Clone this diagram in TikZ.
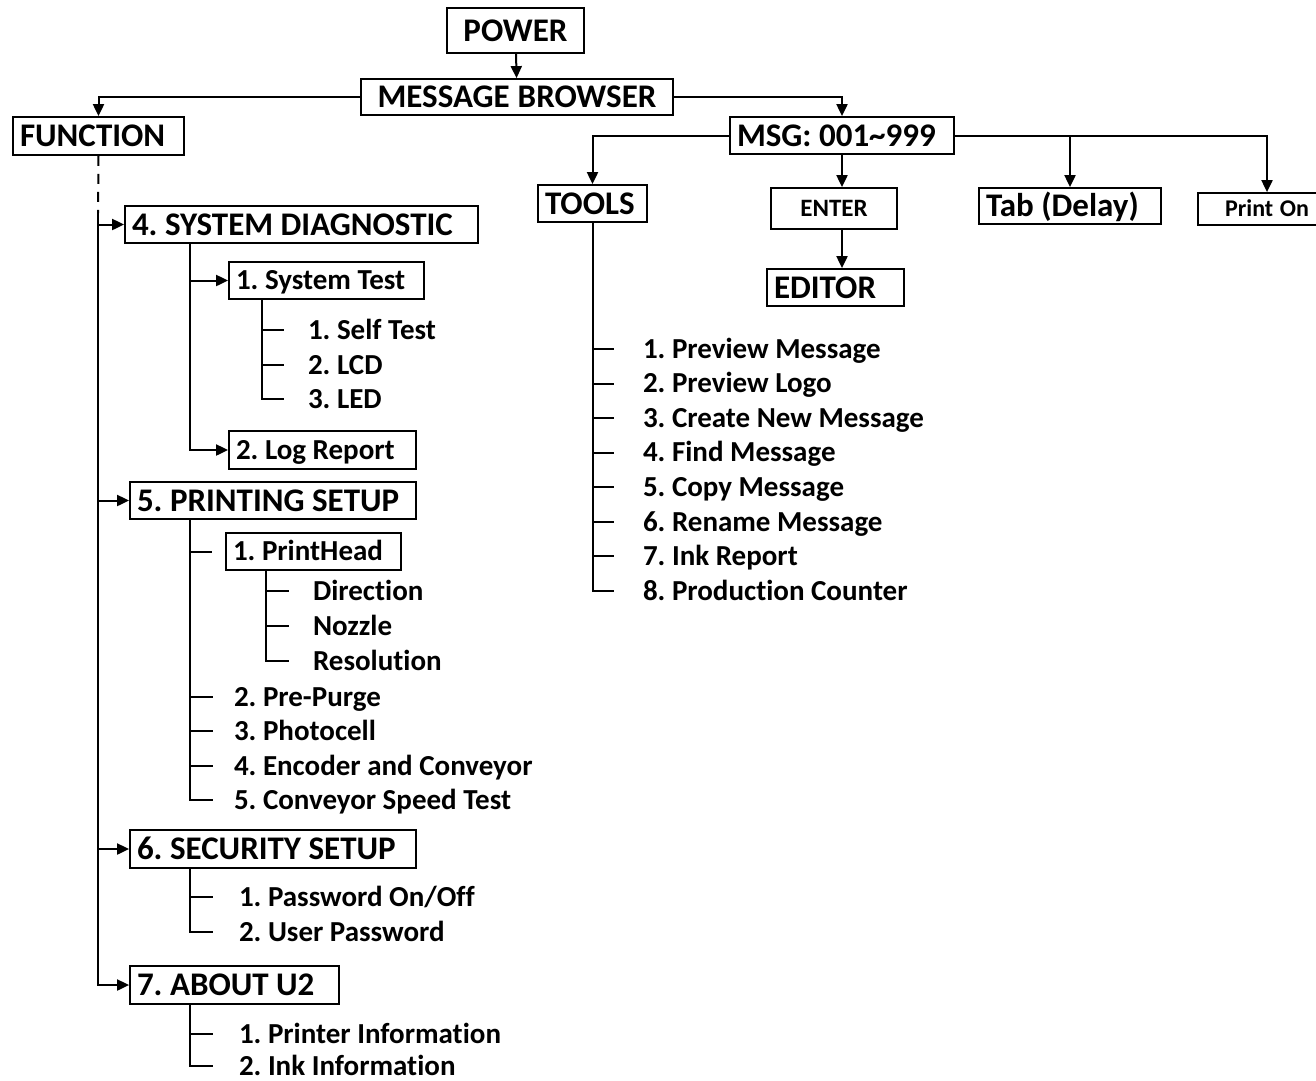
\documentclass[tikz,border=0pt]{standalone}
\usepackage{fontspec}
\setmainfont{Carlito}[Ligatures={NoCommon,TeX}]
\usetikzlibrary{arrows.meta}
\frenchspacing
\begin{document}
\frenchspacing
\begin{tikzpicture}[x=1pt,y=-1pt,line width=2pt,
  arr/.style={-{Triangle[length=12pt,width=11pt]}},
  bx/.style={draw,line width=1.8pt,inner xsep=7pt,inner ysep=0pt,
    font=\fontsize{33}{36}\selectfont\bfseries\frenchspacing,text height=21pt,text depth=0pt,align=left,
    execute at begin node={\spaceskip=0pt\xspaceskip=0pt\relax}},
  sbx/.style={bx,font=\fontsize{29}{31}\selectfont\bfseries\frenchspacing,text height=18.5pt},
  itm/.style={anchor=west,inner sep=0pt,font=\fontsize{29}{31}\selectfont\bfseries\frenchspacing,
    text height=18.5pt,text depth=0pt},
  fdash/.style={dash pattern=on 10pt off 8pt}]
\useasboundingbox (0,0) rectangle (1316,1080);
\clip (0,0) rectangle (1316,1080);

% top boxes
\node[bx,align=center,text width=123pt,minimum height=45pt] (power) at (515.5,30.5) {POWER};
\node[bx,align=center,text width=298pt,minimum height=36pt] (mb) at (517,97) {MESSAGE BROWSER};
\node[bx,text width=157pt,minimum height=38pt] (func) at (98.5,136) {FUNCTION};
\node[bx,text width=210pt,minimum height=37pt] (msg) at (842,135.5) {MSG: 001\textasciitilde 999};
\node[bx,text width=95pt,minimum height=37pt] (tools) at (592.5,203.5) {TOOLS};
\node[bx,align=center,text width=112pt,minimum height=41pt,
  font=\fontsize{25}{28}\selectfont\bfseries,text height=16pt] (enter) at (834,208.5) {ENTER};
\node[bx,text width=168pt,minimum height=36pt] (tab) at (1070,206) {Tab (Delay)};
\node[bx,align=center,text width=124pt,minimum height=32pt,
  font=\fontsize{24}{26}\selectfont\bfseries,text height=15.5pt] (print) at (1267,209) {Print On};
\node[bx,text width=123pt,minimum height=37pt] (editor) at (835.5,287.5) {EDITOR};

% function boxes
\node[bx,text width=339pt,minimum height=37pt] (sd) at (301.5,224.5) {4. SYSTEM DIAGNOSTIC};
\node[sbx,text width=181pt,minimum height=37pt] (st) at (326.5,280.5) {1. System Test};
\node[sbx,text width=173pt,minimum height=38pt] (lr) at (322.5,450) {2. Log Report};
\node[bx,text width=272pt,minimum height=37pt] (ps) at (273,500.5) {5. PRINTING SETUP};
\node[sbx,text width=161pt,minimum height=37pt] (ph) at (313.5,551.5) {1. PrintHead};
\node[bx,text width=272pt,minimum height=38pt] (ss) at (273,849) {6. SECURITY SETUP};
\node[bx,text width=195pt,minimum height=38pt] (ab) at (234.5,985) {7. ABOUT U2};

% junction coordinates
\coordinate (fv) at (98,213);
\coordinate (sdv) at (190,243);
\coordinate (stv) at (262,299);
\coordinate (psv) at (190,519);
\coordinate (phv) at (266,570);
\coordinate (ssv) at (190,868);
\coordinate (abv) at (190,1004);

% top connectors
\draw[arr] (power) -- (mb);
\draw[arr] (mb.west) -| (func.north);
\draw[arr] (mb.east) -| (msg.north);
\draw[arr] (msg.west) -| (tools.north);
\draw[arr] (msg.south) -- (msg.south |- enter.north);
\draw[arr] (enter.south -| msg.south) -- (editor.north -| msg.south);
\draw[arr] (msg.east) -| (tab.north);
\draw[arr] (msg.east) -| (print.north);

% tools items
\node[itm] (t1) at (642,349) {1. Preview Message};
\node[itm] (t2) at (642,383.6) {2. Preview Logo};
\node[itm] (t3) at (642,418.1) {3. Create New Message};
\node[itm] (t4) at (642,452.7) {4. Find Message};
\node[itm] (t5) at (642,487.3) {5. Copy Message};
\node[itm] (t6) at (642,521.9) {6. Rename Message};
\node[itm] (t7) at (642,556.4) {7. Ink Report};
\node[itm] (t8) at (642,591) {8. Production Counter};
\foreach \i in {1,...,8}{\draw (tools.south) |- ([xshift=-28pt]t\i.west);}

% function tree
\draw[fdash] (func.south) -- (fv);
\draw[arr] (fv) |- (sd.west);
\draw[arr] (fv) |- (ps.west);
\draw[arr] (fv) |- (ss.west);
\draw[arr] (fv) |- (ab.west);

% system diagnostic
\draw[arr] (sdv) |- (st.west);
\draw[arr] (sdv) |- (lr.west);
\node[itm] (s1) at (307,330) {1. Self Test};
\node[itm] (s2) at (307,365) {2. LCD};
\node[itm] (s3) at (307,399) {3. LED};
\foreach \i in {1,2,3}{\draw (stv) |- ([xshift=-23pt]s\i.west);}

% printing setup
\draw (psv) |- ([xshift=-13pt]ph.west);
\node[itm] (d1) at (312,591) {Direction};
\node[itm] (d2) at (312,626) {Nozzle};
\node[itm] (d3) at (312,661) {Resolution};
\foreach \i in {1,2,3}{\draw (phv) |- ([xshift=-23pt]d\i.west);}
\node[itm] (p2) at (233,697) {2. Pre-Purge};
\node[itm] (p3) at (233,731) {3. Photocell};
\node[itm] (p4) at (233,766) {4. Encoder and Conveyor};
\node[itm] (p5) at (233,800) {5. Conveyor Speed Test};
\foreach \i in {2,...,5}{\draw (psv) |- ([xshift=-20pt]p\i.west);}

% security setup
\node[itm] (q1) at (238,897) {1. Password On/Off};
\node[itm] (q2) at (238,932) {2. User Password};
\foreach \i in {1,2}{\draw (ssv) |- ([xshift=-25pt]q\i.west);}

% about
\node[itm] (a1) at (238,1034) {1. Printer Information};
\node[itm] (a2) at (238,1066) {2. Ink Information};
\foreach \i in {1,2}{\draw (abv) |- ([xshift=-25pt]a\i.west);}
\end{tikzpicture}
\end{document}
